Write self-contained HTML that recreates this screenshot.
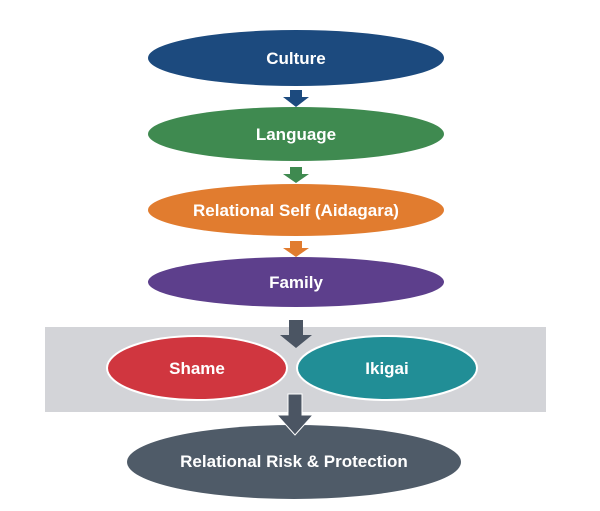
<!DOCTYPE html>
<html><head><style>
html,body{margin:0;padding:0;background:#fff;}
svg{display:block;}
text{font-family:"Liberation Sans",sans-serif;font-weight:bold;fill:#fff;text-anchor:middle;}
</style></head><body>
<svg width="600" height="511" viewBox="0 0 600 511">
<rect x="45" y="327" width="501" height="85" fill="#d3d4d8"/>
<ellipse cx="296" cy="58" rx="148" ry="28" fill="#1c4a7e"/>
<text x="296" y="64" font-size="17">Culture</text>
<path d="M290 90h12v7h7l-13 10-13-10h7z" fill="#1c4a7e"/>
<ellipse cx="296" cy="134" rx="148" ry="27" fill="#3f8a50"/>
<text x="296" y="140" font-size="17">Language</text>
<path d="M290 167h12v7h7l-13 9-13-9h7z" fill="#3f8a50"/>
<ellipse cx="296" cy="210" rx="148" ry="26" fill="#e17c2f"/>
<text x="296" y="216" font-size="17">Relational Self (Aidagara)</text>
<path d="M290 241h12v7h7l-13 9-13-9h7z" fill="#e17c2f"/>
<ellipse cx="296" cy="282" rx="148" ry="25" fill="#5d3f8c"/>
<text x="296" y="288" font-size="17">Family</text>
<path d="M289 320h14v15h9l-16 13-16-13h9z" fill="#4b5563"/>
<ellipse cx="197" cy="368" rx="90" ry="32" fill="#d0363f" stroke="#fff" stroke-width="2"/>
<text x="197" y="374" font-size="17">Shame</text>
<ellipse cx="387" cy="368" rx="90" ry="32" fill="#218e96" stroke="#fff" stroke-width="2"/>
<text x="387" y="374" font-size="17">Ikigai</text>
<ellipse cx="294" cy="462" rx="167" ry="37" fill="#4f5b68"/>
<path d="M288 394h14v21h11l-18 20-18-20h11z" fill="#4b5563" stroke="#fff" stroke-width="1"/>
<text x="294" y="467" font-size="17">Relational Risk &amp; Protection</text>
</svg>
</body></html>
